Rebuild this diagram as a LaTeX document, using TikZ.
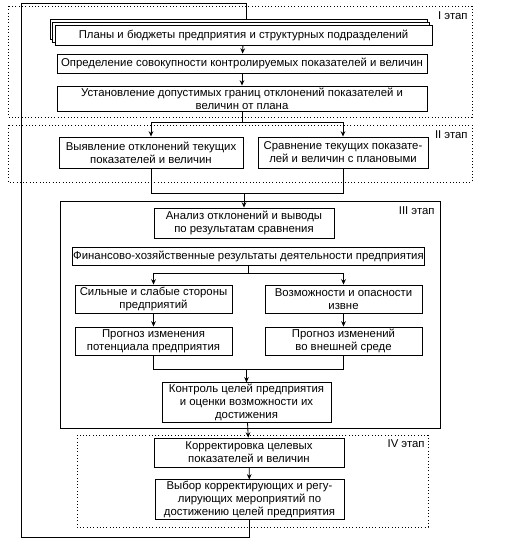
\documentclass[tikz,border=0pt]{standalone}
\usepackage{fontspec}
\setmainfont{Liberation Sans}
\usepackage{tikz}
\usetikzlibrary{arrows.meta,calc}

\begin{document}
\begin{tikzpicture}[x=0.03cm,y=-0.03cm,
  font=\fontsize{9.7}{11.2}\selectfont,
  box/.style={draw,line width=0.8pt,fill=white,align=center,inner sep=1pt},
  stage/.style={draw,dotted,line width=0.8pt},
  stagelabel/.style={anchor=north east,inner sep=1pt},
  arr/.style={-{Stealth[length=4.5pt,width=4pt]},line width=0.7pt},
  ln/.style={line width=0.7pt}]
\useasboundingbox (0,0) rectangle (507,549);
\fill[white] (0,0) rectangle (507,549);

% frames of the stages
\draw[stage] (8,6) rectangle (472,117);
\node[stagelabel] (st1) at (469,10) {I этап};
\draw[stage] (8,125) rectangle (472,182);
\node[stagelabel] (st2) at (469,129) {II этап};
\draw[line width=0.8pt] (60,201) rectangle (440,428);
\node[stagelabel] (st3) at (436,205) {III этап};
\draw[stage] (77,435) rectangle (428,527);
\node[stagelabel] (st4) at (426,438) {IV этап};

% stage I
\node[box,minimum width=11.31cm,minimum height=0.6cm] (plans3) at (238.5,29) {};
\node[box,minimum width=11.31cm,minimum height=0.6cm] (plans2) at (241,32) {};
\node[box,minimum width=11.31cm,minimum height=0.6cm] (plans) at (243.5,35)
  {Планы и бюджеты предприятия и структурных подразделений};
\node[box,minimum width=11.1cm,minimum height=0.57cm] (opred) at (242,63.5)
  {Определение совокупности контролируемых показателей и величин};
\node[box,minimum width=11.1cm,minimum height=0.75cm] (ustan) at (242,98.5)
  {Установление допустимых границ отклонений показателей и\\величин от плана};

% stage II
\node[box,minimum width=5.52cm,minimum height=0.93cm] (vyyav) at (151,152.5)
  {Выявление отклонений текущих\\показателей и величин};
\node[box,minimum width=5.1cm,minimum height=0.93cm] (sravn) at (343,152.5)
  {Сравнение текущих показате-\\лей и величин с плановыми};

% stage III
\node[box,minimum width=5.4cm,minimum height=0.9cm] (analiz) at (244,223)
  {Анализ отклонений и выводы\\по результатам сравнения};
\node[box,minimum width=10.41cm,minimum height=0.54cm] (fin) at (248.5,256)
  {Финансово-хозяйственные результаты деятельности предприятия};
\node[box,minimum width=4.71cm,minimum height=0.84cm] (sil) at (153.5,299)
  {Сильные и слабые стороны\\предприятий};
\node[box,minimum width=4.71cm,minimum height=0.84cm] (vozm) at (343.5,299)
  {Возможности и опасности\\извне};
\node[box,minimum width=4.71cm,minimum height=0.84cm] (prog1) at (153.5,341)
  {Прогноз изменения\\потенциала предприятия};
\node[box,minimum width=4.71cm,minimum height=0.84cm] (prog2) at (343.5,341)
  {Прогноз изменений\\во внешней среде};
\node[box,minimum width=5.07cm,minimum height=1.17cm] (kontr) at (246.5,402.5)
  {Контроль целей предприятия\\и оценки возможности их\\достижения};

% stage IV
\node[box,minimum width=5.7cm,minimum height=0.87cm] (korr) at (249,452.5)
  {Корректировка целевых\\показателей и величин};
\node[box,minimum width=5.67cm,minimum height=1.11cm] (vybor) at (249.5,499.5)
  {Выбор корректирующих и регу-\\лирующих мероприятий по\\достижению целей предприятия};

% connectors
\coordinate (s1) at (0,122);
\coordinate (m1) at (0,193);
\coordinate (s2) at (0,273);
\coordinate (m2) at (0,369);
\coordinate (fbl) at (21,537);
\coordinate (fbr) at (246,3);

\draw[arr] (plans) -- (opred);
\draw[arr] (opred) -- (ustan);
\draw[ln] (ustan.south) -- (ustan.south |- s1);
\draw[arr] (ustan.south |- s1) -| (vyyav.north);
\draw[arr] (ustan.south |- s1) -| (sravn.north);
\draw[ln] (vyyav.south) |- (sravn.south |- m1) -- (sravn.south);
\draw[arr] (analiz.north |- m1) -- (analiz.north);
\draw[ln] (fin.south) -- (fin.south |- s2);
\draw[arr] (fin.south |- s2) -| (sil.north);
\draw[arr] (fin.south |- s2) -| (vozm.north);
\draw[arr] (sil) -- (prog1);
\draw[arr] (vozm) -- (prog2);
\draw[ln] (prog1.south) |- (prog2.south |- m2) -- (prog2.south);
\draw[arr] (kontr.north |- m2) -- (kontr.north);
\draw[arr] (kontr) -- (korr);
\draw[arr] (korr) -- (vybor);
\draw[ln] (vybor.south) |- (fbl) |- (fbr) -- (fbr |- plans3.north);
\end{tikzpicture}
\end{document}
